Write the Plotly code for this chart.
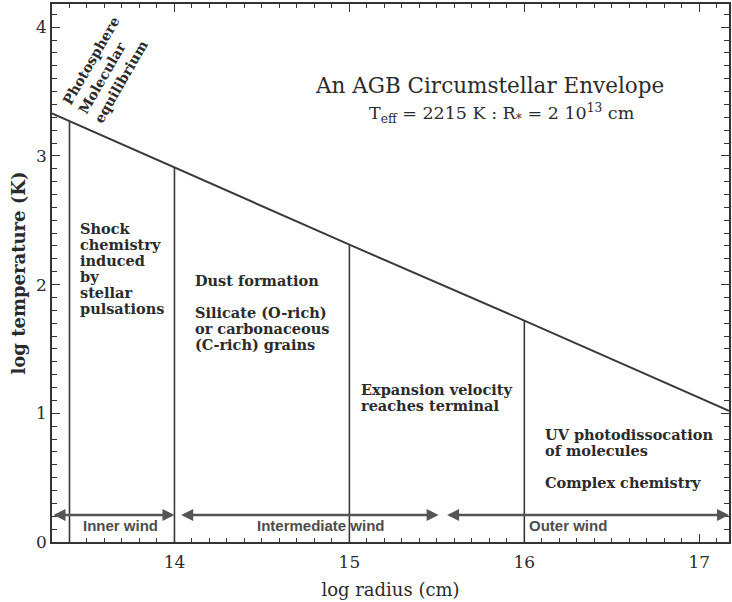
import plotly.graph_objects as go

# ---------------- data ----------------
log_r = [13.3, 14.0, 15.0, 16.0, 17.17]          # log radius (cm)
log_T = [3.33, 2.91, 2.31, 1.72, 1.02]           # log temperature (K)

boundary_r = [13.4, 14.0, 15.0, 16.0]            # region boundaries
boundary_T = [3.27, 2.91, 2.31, 1.72]            # where they meet the T profile

wind_names = ["Inner wind", "Intermediate wind", "Outer wind"]
wind_start = [13.3, 14.03, 15.55]
wind_end = [14.0, 15.51, 17.17]
wind_label_r = [13.69, 14.84, 16.25]
arrow_T = 0.21
wind_label_T = 0.125

x_ticks = [14, 15, 16, 17]
y_ticks = [0, 1, 2, 3, 4]

title_text = "An AGB Circumstellar Envelope"
subtitle_text = "T<sub>eff</sub> = 2215 K : R<sub>*</sub> = 2 10<sup>13</sup> cm"
photosphere_text = "Photosphere<br>Molecular<br>equilibrium"

region_lines = [
    ["Shock", "chemistry", "induced", "by", "stellar", "pulsations"],
    ["Dust formation", "", "Silicate (O-rich)", "or carbonaceous", "(C-rich) grains"],
    ["Expansion velocity", "reaches terminal"],
    ["UV photodissocation", "of molecules", "", "Complex chemistry"],
]
# text block anchors (left edge in log r, first line centre in log T)
region_r = [13.446, 14.105, 15.054, 16.107]
region_T = [2.434, 2.031, 1.186, 0.837]
line_step = 0.124

# ---------------- styles ----------------
INK = "#2b2b2b"
GREY = "#555555"
SERIF = "DejaVu Serif"
SANS = "Liberation Sans"

fig = go.Figure()

# temperature profile
fig.add_trace(go.Scatter(x=log_r, y=log_T, mode="lines",
                         line=dict(color="#3a3a3a", width=2), hoverinfo="skip",
                         showlegend=False))

# region boundaries
bx, by = [], []
for r, t in zip(boundary_r, boundary_T):
    bx += [r, r, None]
    by += [0, t, None]
fig.add_trace(go.Scatter(x=bx, y=by, mode="lines",
                         line=dict(color="#3a3a3a", width=1.6), hoverinfo="skip",
                         showlegend=False))

ann = []
# wind arrows
for s, e in zip(wind_start, wind_end):
    ann.append(dict(x=e, y=arrow_T, ax=s, ay=arrow_T, xref="x", yref="y",
                    axref="x", ayref="y", text="", showarrow=True,
                    arrowhead=2, startarrowhead=2, arrowside="end+start",
                    arrowsize=1.0, startarrowsize=1.0, arrowwidth=2.4,
                    arrowcolor=GREY, standoff=0, startstandoff=0))
for name, r in zip(wind_names, wind_label_r):
    ann.append(dict(x=r, y=wind_label_T, xref="x", yref="y", text=name,
                    showarrow=False,
                    font=dict(family=SANS, size=15, color="#4d4d4d", weight="bold"),
                    xanchor="center", yanchor="middle"))

# region descriptions
for lines, r0, t0 in zip(region_lines, region_r, region_T):
    for i, ln in enumerate(lines):
        if not ln:
            continue
        ann.append(dict(x=r0, y=t0 - i * line_step, xref="x", yref="y", text=ln,
                        showarrow=False, xanchor="left", yanchor="middle",
                        font=dict(family=SERIF, size=14.5, color=INK, weight="bold")))

# photosphere label (rotated)
ann.append(dict(x=13.61, y=3.67, xref="x", yref="y", text=photosphere_text,
                showarrow=False, textangle=-60, align="left",
                xanchor="center", yanchor="middle",
                font=dict(family=SERIF, size=14, color=INK, weight="bold")))

# title block
ann.append(dict(x=15.80, y=3.543, xref="x", yref="y", text=title_text,
                showarrow=False, xanchor="center", yanchor="middle",
                font=dict(family=SERIF, size=21.5, color=INK)))
ann.append(dict(x=15.87, y=3.326, xref="x", yref="y", text=subtitle_text,
                showarrow=False, xanchor="center", yanchor="middle",
                font=dict(family=SERIF, size=17.5, color=INK)))

axis_common = dict(showgrid=False, zeroline=False, showline=True,
                   linecolor="#333333", linewidth=1.5, mirror="ticks",
                   ticks="inside", ticklen=8, tickwidth=1.2, tickcolor="#333333",
                   automargin=False,
                   tickfont=dict(family=SERIF, size=17, color=INK))

fig.update_layout(
    width=732, height=602,
    margin=dict(l=52, r=3, t=4, b=60),
    paper_bgcolor="white", plot_bgcolor="white",
    annotations=ann,
    xaxis=dict(range=[13.3, 17.17], tickvals=x_ticks, ticklabelstandoff=4,
               minor=dict(dtick=0.1, tick0=0, ticks="inside", ticklen=4,
                          tickwidth=1, tickcolor="#333333", showgrid=False),
               title=dict(text="log radius (cm)", standoff=12,
                          font=dict(family=SERIF, size=18, color=INK)),
               **axis_common),
    yaxis=dict(range=[0, 4.18], tickvals=y_ticks,
               minor=dict(dtick=0.1, tick0=0, ticks="inside", ticklen=5,
                          tickwidth=1, tickcolor="#333333", showgrid=False),
               title=dict(text="log temperature (K)", standoff=6,
                          font=dict(family=SERIF, size=18, color=INK, weight="bold")),
               **axis_common),
)

fig.write_html("out.html", config={"displayModeBar": False},
               post_script="document.body.style.margin='0';")
